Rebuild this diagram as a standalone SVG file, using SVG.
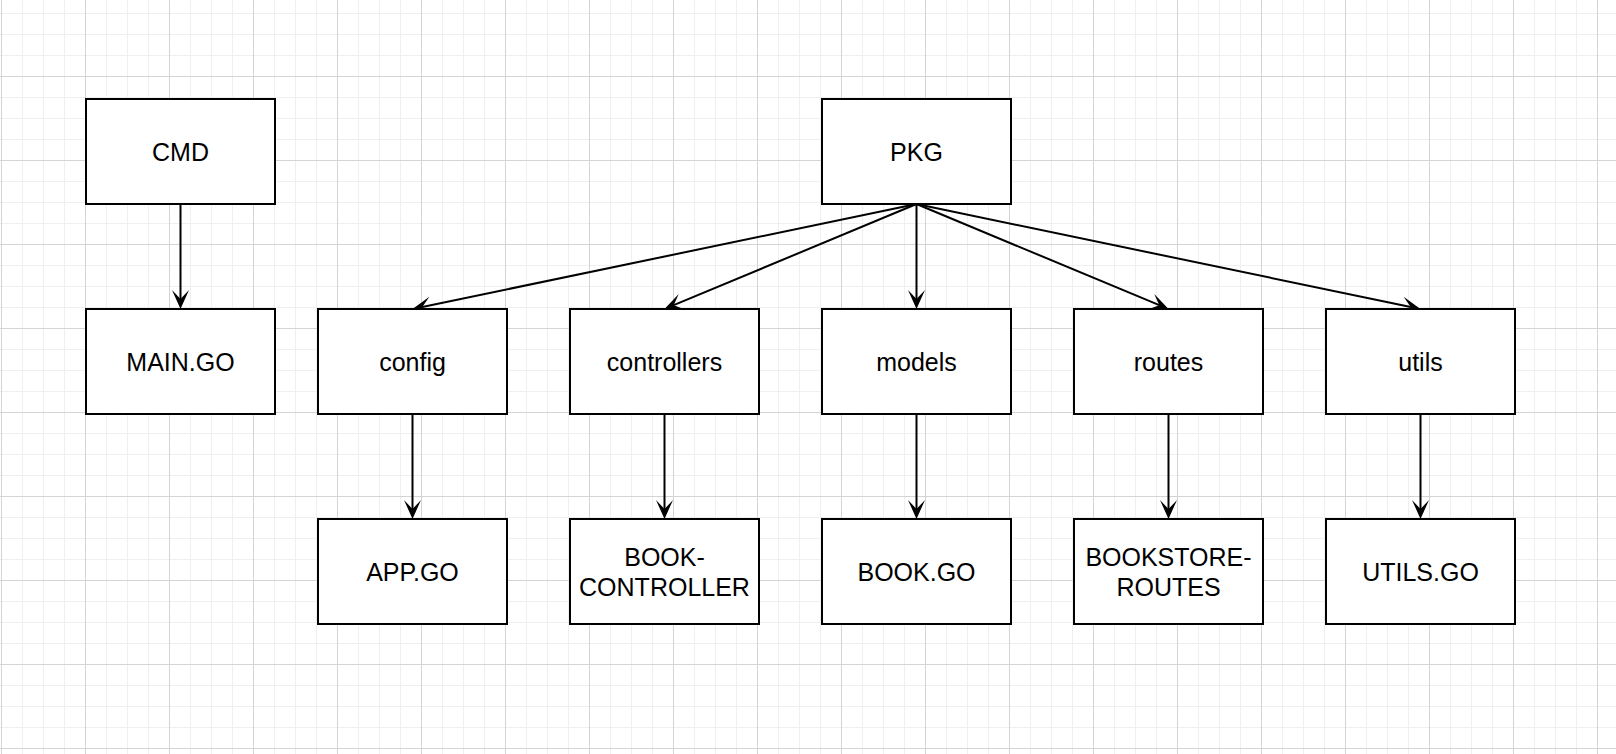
<svg xmlns="http://www.w3.org/2000/svg" width="1616" height="754" viewBox="0 0 1616 754">
  <defs>
    <pattern id="grid" x="1" y="76" width="84" height="84" patternUnits="userSpaceOnUse">
      <path d="M21.5,0V84M42.5,0V84M63.5,0V84M0,21.5H84M0,42.5H84M0,63.5H84" fill="none" stroke="#efefef" stroke-width="1"/>
      <path d="M0.5,0V84M0,0.5H84" fill="none" stroke="#d4d4d4" stroke-width="1"/>
    </pattern>
    <marker id="arrow" viewBox="-10 -10 21 20" refX="0" refY="0" markerWidth="21" markerHeight="20" markerUnits="userSpaceOnUse" orient="auto">
      <path d="M10,0 L-9,-8.5 L0,0 L-9,8.5 Z" fill="#000"/>
    </marker>
  </defs>
  <style>
    .box { fill: #fff; stroke: #000; stroke-width: 2; }
    .lbl { font-family: "Liberation Sans", Arial, Helvetica, sans-serif; font-size: 25px; fill: #000; text-anchor: middle; }
    .edge { fill: none; stroke: #000; stroke-width: 2; marker-end: url(#arrow); }
  </style>
  <rect width="1616" height="754" fill="#fff"/>
  <rect width="1616" height="754" fill="url(#grid)"/>

  <g id="connectors">
    <path class="edge" d="M180.5,204 L180.5,299"/>
    <path class="edge" d="M916.5,204 L422.3,307"/>
    <path class="edge" d="M916.5,204 L673.7,305.2"/>
    <path class="edge" d="M916.5,204 L916.5,299"/>
    <path class="edge" d="M916.5,204 L1159.3,305.2"/>
    <path class="edge" d="M916.5,204 L1410.7,307"/>
    <path class="edge" d="M412.5,414 L412.5,509"/>
    <path class="edge" d="M664.5,414 L664.5,509"/>
    <path class="edge" d="M916.5,414 L916.5,509"/>
    <path class="edge" d="M1168.5,414 L1168.5,509"/>
    <path class="edge" d="M1420.5,414 L1420.5,509"/>
  </g>

  <g id="cmd"><rect class="box" x="86" y="99" width="189" height="105"/><text class="lbl" x="180.5" y="161">CMD</text></g>
  <g id="pkg"><rect class="box" x="822" y="99" width="189" height="105"/><text class="lbl" x="916.5" y="161">PKG</text></g>

  <g id="main-go"><rect class="box" x="86" y="309" width="189" height="105"/><text class="lbl" x="180.5" y="371">MAIN.GO</text></g>
  <g id="config"><rect class="box" x="318" y="309" width="189" height="105"/><text class="lbl" x="412.5" y="371">config</text></g>
  <g id="controllers"><rect class="box" x="570" y="309" width="189" height="105"/><text class="lbl" x="664.5" y="371">controllers</text></g>
  <g id="models"><rect class="box" x="822" y="309" width="189" height="105"/><text class="lbl" x="916.5" y="371">models</text></g>
  <g id="routes"><rect class="box" x="1074" y="309" width="189" height="105"/><text class="lbl" x="1168.5" y="371">routes</text></g>
  <g id="utils"><rect class="box" x="1326" y="309" width="189" height="105"/><text class="lbl" x="1420.5" y="371">utils</text></g>

  <g id="app-go"><rect class="box" x="318" y="519" width="189" height="105"/><text class="lbl" x="412.5" y="581">APP.GO</text></g>
  <g id="book-controller"><rect class="box" x="570" y="519" width="189" height="105"/><text class="lbl" x="664.5" y="566">BOOK-</text><text class="lbl" x="664.5" y="596">CONTROLLER</text></g>
  <g id="book-go"><rect class="box" x="822" y="519" width="189" height="105"/><text class="lbl" x="916.5" y="581">BOOK.GO</text></g>
  <g id="bookstore-routes"><rect class="box" x="1074" y="519" width="189" height="105"/><text class="lbl" x="1168.5" y="566">BOOKSTORE-</text><text class="lbl" x="1168.5" y="596">ROUTES</text></g>
  <g id="utils-go"><rect class="box" x="1326" y="519" width="189" height="105"/><text class="lbl" x="1420.5" y="581">UTILS.GO</text></g>
</svg>
